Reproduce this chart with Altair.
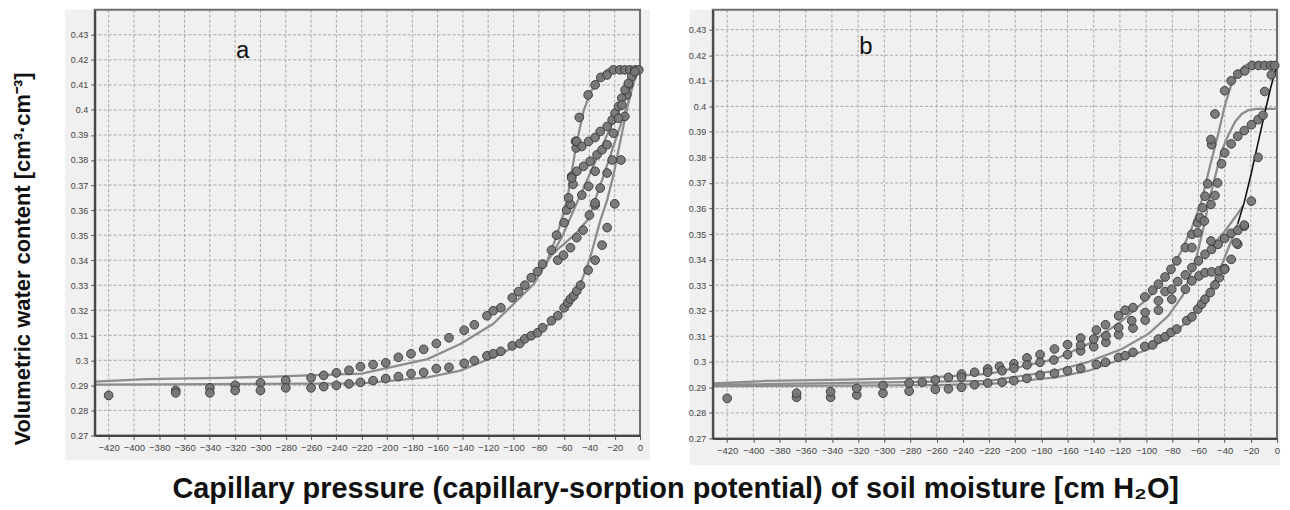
import altair as alt
import pandas as pd

# ---------------- data ----------------
X_TICKS = list(range(-420, 1, 20))
Y_TICKS = [0.27, 0.28, 0.29, 0.30, 0.31, 0.32, 0.33, 0.34, 0.35, 0.36, 0.37, 0.38, 0.39, 0.40, 0.41, 0.42, 0.43]

# panel a - measured points (x = capillary pressure, y = water content)
A_UP = [(-367,0.288),(-340,0.289),(-320,0.290),(-300,0.291),(-280,0.292),(-260,0.293),(-250,0.294),(-240,0.295),
        (-230,0.296),(-221,0.2975),(-211,0.2983),(-201,0.299),(-191,0.3012),(-181,0.3026),(-171,0.3044),(-161,0.3067),
        (-151,0.309),(-139,0.312),(-131,0.3142),(-121,0.3178),(-116,0.3198),(-110,0.321),(-101,0.325),(-96,0.3274),
        (-91,0.330),(-86,0.333),(-81,0.3354),(-77,0.3384),(-70,0.344),(-66,0.350),(-60,0.355),(-58,0.360),(-55,0.3623),
        (-56.5,0.3649),(-53,0.3703),(-54,0.3735),(-50.4,0.3848),(-51,0.3875),(-48,0.397),(-41,0.406),(-35.5,0.410),
        (-31,0.413),(-26,0.414),(-21,0.416),(-16,0.416),(-12,0.416),(-8,0.416),(-4,0.416),(-1,0.416)]
A_LOW = [(-420,0.286),(-367,0.287),(-340,0.287),(-320,0.288),(-300,0.288),(-280,0.289),(-260,0.289),(-250,0.2895),
         (-240,0.290),(-230,0.2906),(-221,0.2912),(-211,0.2919),(-201,0.2927),(-191,0.2935),(-181,0.2947),(-171,0.2952),
         (-161,0.2967),(-151,0.2972),(-139,0.2988),(-131,0.2999),(-121,0.3018),(-116,0.3026),(-110,0.3036),(-101,0.3058),
         (-95,0.3067),(-91,0.3086),(-86,0.3098),(-81,0.311),(-77,0.313),(-70,0.3158),(-65,0.3178),(-60,0.321),(-57,0.323),
         (-55,0.3245),(-52.5,0.3257),(-50,0.3277),(-47,0.330),(-41,0.336),(-35.5,0.340),(-30,0.346),(-26,0.353),
         (-20,0.3625),(-15,0.380),(-12,0.3974),(-10.5,0.406),(-9,0.410),(-6.5,0.4133),(-4,0.4153)]
A_MID = [(-65,0.340),(-60.5,0.342),(-55,0.345),(-50,0.349),(-45,0.352),(-40,0.358),(-35.5,0.362),(-54,0.3728),
         (-50,0.3755),(-44.6,0.3775),(-39.4,0.3795),(-34,0.3821),(-30,0.3841),(-50,0.3874),(-46,0.3854),(-40.7,0.3874),
         (-35.5,0.389),(-31.5,0.3914),(-26,0.3934),(-22,0.396),(-19.7,0.3987),(-17,0.4014),(-14.4,0.4047),(-11.8,0.408),
         (-9.2,0.4106),(-40.7,0.3695),(-35.5,0.3755),(-26,0.3861),(-21,0.3907),(-17,0.3967),(-14.4,0.402),(-26,0.3748),
         (-22,0.380),(-31.5,0.3688),(-35.5,0.3629),(-46,0.366)]

# panel a - fitted curves
A_CURVE_1 = [(-431,0.2915),(-390,0.2925),(-330,0.293),(-290,0.2935),(-262,0.294),(-220,0.2947),(-168,0.3005),
             (-142,0.3065),(-116,0.3146),(-100,0.3225),(-84,0.3305),(-73.5,0.3397),(-65.6,0.350),(-57.8,0.3635),
             (-50.4,0.3861),(-44.7,0.3994),(-40,0.406),(-35.5,0.4106),(-30,0.414),(-26.2,0.416),(-21,0.4168),(0,0.4168)]
A_CURVE_2 = [(-431,0.2903),(-330,0.2905),(-260,0.2907),(-220,0.2908),(-168,0.2932),(-142,0.2959),(-116,0.3012),
             (-100,0.3052),(-84,0.3106),(-71,0.3146),(-58,0.321),(-47,0.3305),(-39.4,0.341),(-31.5,0.3556),(-26,0.364),
             (-21,0.374),(-15.8,0.387),(-10.5,0.400),(-5.3,0.411),(0,0.4168)]
A_CURVE_3 = [(-80,0.334),(-70,0.342),(-62,0.349),(-54,0.3582),(-45,0.3684),(-35,0.3798),(-25,0.3912),(-15,0.4025),
             (-8,0.4105),(-2.6,0.4166),(0,0.4168)]
A_CURVE_4 = [(-72,0.3415),(-60,0.3465),(-50,0.351),(-40.7,0.3565),(-30,0.372),(-20,0.387),(-10,0.402),(-2.6,0.4153),
             (0,0.4165)]

# panel b - measured points
B_LOW = [(-420,0.2857),(-367,0.2861),(-341,0.2861),(-321,0.2870),(-301,0.2877),(-281,0.2885),(-261,0.2892),
         (-251,0.2894),(-241,0.2900),(-231,0.2910),(-221,0.2917),(-210,0.2920),(-201,0.2926),(-191,0.2935),(-181,0.2948),
         (-170,0.2955),(-160,0.2965),(-150,0.2974),(-138,0.2989),(-131,0.2998),(-121,0.3017),(-116,0.3024),(-110,0.3037),
         (-101,0.3060),(-95,0.3066),(-90.6,0.3089),(-85.5,0.3098),(-81,0.3115),(-76.6,0.3128),(-69,0.3161),(-65,0.3176),
         (-60.6,0.3206),(-57.6,0.3226),(-55,0.3245),(-51,0.3271),(-47.4,0.3301),(-44,0.333),(-40,0.3365),(-35,0.3401),
         (-30,0.3460),(-25,0.3531)]
B_UP = [(-367,0.2877),(-341,0.2883),(-321,0.2896),(-301,0.2907),(-281,0.2917),(-271,0.2920),(-261,0.2929),(-251,0.2939),
        (-241,0.2952),(-231,0.2959),(-221,0.2972),(-212,0.2982),(-201,0.2992),(-191,0.3015),(-181,0.3028),(-170,0.3050),
        (-160,0.3067),(-150,0.3093),(-138,0.3124),(-131,0.3145),(-121,0.3180),(-116,0.3202),(-110,0.3212),(-101,0.3254),
        (-95,0.3280),(-90.6,0.3304),(-85.5,0.3332),(-81,0.3362),(-76.6,0.3395),(-70,0.3447),(-65,0.3499),(-60.6,0.3544),
        (-58.8,0.3564),(-57,0.3603),(-55,0.3648),(-53,0.3697),(-50,0.3850),(-50.5,0.3870),(-47.4,0.3970),(-40,0.4061),
        (-35,0.4100),(-30,0.4126),(-24.6,0.4139),(-19,0.416),(-14,0.416),(-9.4,0.416),(-4.8,0.416),(-1.8,0.416)]
B_MID1 = [(-241,0.2939),(-221,0.2959),(-210,0.2965),(-201,0.2975),(-191,0.2988),(-181,0.2998),(-170.5,0.3007),
          (-160,0.3028),(-150,0.3043),(-140,0.3059),(-130.7,0.3076),(-121,0.3106),(-110,0.3132),(-100.7,0.3163),
          (-90.6,0.3202),(-80.4,0.3245),(-70,0.3284),(-65,0.3317),(-59.6,0.3336),(-55,0.3349),(-50,0.3352),
          (-44.4,0.3356),(-40,0.3362)]
B_MID2 = [(-150,0.3065),(-140,0.3089),(-130.7,0.3102),(-121,0.3134),(-111,0.3161),(-100.7,0.3193),(-90.6,0.3239),
          (-85.5,0.3275),(-80.4,0.3284),(-75.9,0.3314),(-70,0.3340),(-65,0.3369),(-60,0.3395),(-55,0.3421),(-50,0.3440),
          (-45,0.3460),(-40,0.3483),(-35,0.3503),(-30,0.3515),(-25,0.3535),(-50.5,0.3473),(-31,0.3466)]
B_MID3 = [(-65,0.3447),(-60.6,0.3505),(-55.5,0.3551),(-50.5,0.3616),(-47.4,0.3651),(-45.4,0.3700),(-42.4,0.3775),
          (-40,0.3818),(-35,0.3853),(-30,0.3883),(-25,0.3905),(-19.5,0.3928),(-14.5,0.3948),(-10.7,0.3965)]
B_BLK_PTS = [(-19.6,0.3629),(-14.5,0.380),(-9.4,0.4058),(-4.3,0.4123)]

# panel b - fitted curves
B_CURVE_1 = [(-431,0.2915),(-390,0.2925),(-330,0.293),(-290,0.2935),(-262,0.294),(-220,0.2953),(-169,0.3011),
             (-144,0.307),(-118.5,0.316),(-98,0.3252),(-83,0.3343),(-73,0.3434),(-65,0.3525),(-57.6,0.363),(-51,0.377),
             (-45,0.389),(-40,0.400),(-35,0.4085),(-30,0.413),(-25,0.4158),(-20,0.417),(0,0.417)]
B_CURVE_2 = [(-431,0.2905),(-330,0.2907),(-260,0.2909),(-220,0.2913),(-169,0.2939),(-144,0.2965),(-118.5,0.3011),
             (-98,0.305),(-83,0.3095),(-68,0.316),(-57.6,0.3226),(-47.4,0.3317),(-40,0.3408),(-35,0.3473),(-30,0.354)]
B_CURVE_3 = [(-431,0.291),(-220,0.2925),(-169,0.2965),(-144,0.300),(-118.5,0.305),(-98,0.311),(-83,0.318),(-72,0.326),
             (-62,0.340),(-55,0.355),(-52.5,0.362),(-47,0.373),(-42.4,0.3824),(-37,0.389),(-32,0.394),(-27,0.397),
             (-22,0.3985),(-15,0.399),(0,0.399)]
B_CURVE_4 = [(-50,0.345),(-40,0.351),(-30,0.358),(-26,0.361)]
B_CURVE_BLACK = [(-30,0.354),(-25,0.3625),(-20,0.373),(-15,0.3845),(-10,0.396),(-5,0.407),(0,0.4165)]

PANEL_LABELS = ["a", "b"]
LABEL_POS = (-314, 0.4234)
Y_TITLE = "Volumetric water content [cm³·cm⁻³]"
X_TITLE = "Capillary pressure (capillary-sorption potential) of soil moisture [cm H₂O]"

# ---------------- styling ----------------
FONT = "Liberation Sans"
BG = "#f0f0f0"
GRID = "#a9a9a9"
PT_FILL = "#767676"
PT_STROKE = "#383838"
CURVE = "#8d8d8d"


def pts_frame(groups):
    rows = []
    for g in groups:
        for x, y in g:
            rows.append({"x": x, "y": y})
    return pd.DataFrame(rows)


def curve_frame(curves):
    rows = []
    for k, c in enumerate(curves):
        for i, (x, y) in enumerate(c):
            rows.append({"x": x, "y": y, "s": k, "i": i})
    return pd.DataFrame(rows)


def panel(points, curves, black, label, w, h, ytop, right_ext, bottom_ext, left_ext, ytitle):
    xs = alt.Scale(domain=[-431, 0], nice=False, zero=False)
    ys = alt.Scale(domain=[0.27, ytop], nice=False, zero=False)
    xaxis = alt.Axis(values=X_TICKS, title=None, grid=False, labelFlush=False, labelOverlap=False,
                     format="d", zindex=1, labelFontSize=9.5)
    if ytitle:
        yaxis = alt.Axis(values=Y_TICKS, title=Y_TITLE, grid=False, labelFlush=False, labelOverlap=False,
                         format=".2~f", zindex=1, titleX=-72, titleY=h / 2 + 36, titleAngle=270,
                         titleAlign="center", titleBaseline="middle", titleFontSize=22,
                         titleFont=FONT, titleFontWeight="bold", titleColor="#111111")
    else:
        yaxis = alt.Axis(values=Y_TICKS, title=None, grid=False, labelFlush=False, labelOverlap=False,
                         format=".2~f", zindex=1)

    def X(f):
        return alt.X(f, type="quantitative", scale=xs, axis=xaxis)

    def Y(f):
        return alt.Y(f, type="quantitative", scale=ys, axis=yaxis)

    one = pd.DataFrame({"k": [0]})
    bg = alt.Chart(one).mark_rect(fill=BG, strokeWidth=0).encode(
        x=alt.value(-left_ext), x2=alt.value(w + right_ext), y=alt.value(0), y2=alt.value(h + bottom_ext))
    vgrid = alt.Chart(pd.DataFrame({"x": X_TICKS})).mark_rule(
        color=GRID, strokeDash=[3, 2], strokeWidth=1).encode(x=X("x"))
    hgrid = alt.Chart(pd.DataFrame({"y": Y_TICKS})).mark_rule(
        color=GRID, strokeDash=[3, 2], strokeWidth=1).encode(y=Y("y"))
    frame = alt.Chart(one).mark_rect(fillOpacity=0, stroke="#6e6e6e", strokeWidth=2).encode(
        x=alt.value(0), x2=alt.value(w), y=alt.value(0), y2=alt.value(h))
    lines = alt.Chart(curve_frame(curves)).mark_line(color=CURVE, strokeWidth=2.3).encode(
        x=X("x"), y=Y("y"), detail="s:N", order="i:Q")
    layers = [bg, vgrid, hgrid, frame, lines]
    if black:
        blk = alt.Chart(curve_frame([black])).mark_line(color="#111111", strokeWidth=1.6).encode(
            x=X("x"), y=Y("y"), order="i:Q")
        layers.append(blk)
    dots = alt.Chart(pts_frame(points)).mark_circle(
        color=PT_FILL, stroke=PT_STROKE, strokeWidth=1, size=76, opacity=0.95).encode(x=X("x"), y=Y("y"))
    txt = alt.Chart(pd.DataFrame({"x": [LABEL_POS[0]], "y": [LABEL_POS[1]], "t": [label]})).mark_text(
        font=FONT, fontSize=24, color="#111111").encode(x=X("x"), y=Y("y"), text="t:N")
    layers += [dots, txt]
    return alt.layer(*layers).properties(width=w, height=h)


pa = panel([A_UP, A_LOW, A_MID], [A_CURVE_1, A_CURVE_2, A_CURVE_3, A_CURVE_4], None, PANEL_LABELS[0],
           547, 427, 0.44, 10, 25, 30, True)
pb = panel([B_LOW, B_UP, B_MID1, B_MID2, B_MID3, B_BLK_PTS], [B_CURVE_1, B_CURVE_2, B_CURVE_3, B_CURVE_4],
           B_CURVE_BLACK, PANEL_LABELS[1], 566, 430, 0.4378, 3, 27, 23, False)

chart = alt.hconcat(pa, pb, spacing=73, bounds="flush").properties(
    padding={"left": 3, "top": 0, "right": 0, "bottom": 0},
    title=alt.TitleParams(text=X_TITLE, orient="bottom", anchor="middle", font=FONT, fontSize=29,
                          fontWeight="bold", color="#111111", offset=10, dx=29),
).configure_view(stroke=None).configure_axis(
    labelFont=FONT, labelFontSize=9, labelColor="#444444", tickColor="#555555", tickSize=4,
    domainColor="#454545", domainWidth=2, labelPadding=3,
)

chart.save("out.html", embed_options={"renderer": "svg", "actions": False})
